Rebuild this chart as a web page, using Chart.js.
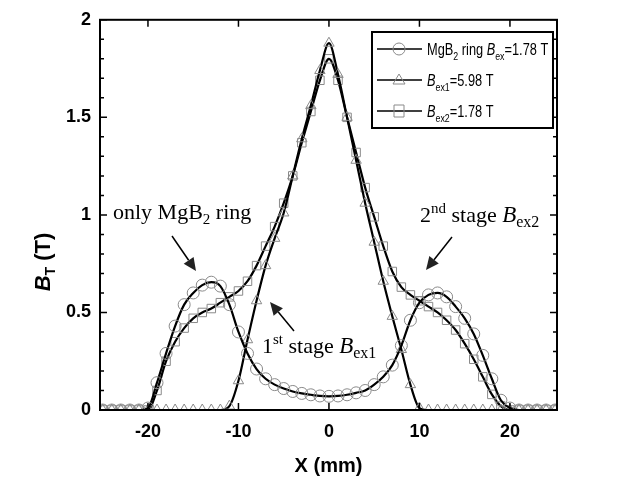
<!DOCTYPE html>
<html>
<head>
<meta charset="utf-8">
<script src="https://cdn.jsdelivr.net/npm/chart.js@4.4.0/dist/chart.umd.min.js"></script>
<style>
  body { margin: 0; background: #fff; }
</style>
</head>
<body>
<canvas id="chart" width="624" height="484"></canvas>
<script>
// positions along X (mm)
const xPositions = [-25, -24, -23, -22, -21, -20, -19, -18, -17, -16, -15, -14, -13, -12, -11, -10, -9, -8, -7, -6, -5, -4, -3, -2, -1,
  0, 1, 2, 3, 4, 5, 6, 7, 8, 9, 10, 11, 12, 13, 14, 15, 16, 17, 18, 19, 20, 21, 22, 23, 24, 25];

// MgB2 ring only, Bex = 1.78 T
const ringValues = [0, 0, 0, 0, 0, 0.01, 0.14, 0.29, 0.43, 0.54, 0.60, 0.64, 0.655, 0.635, 0.54, 0.40, 0.29, 0.21, 0.16, 0.13, 0.11, 0.095, 0.085, 0.078, 0.072,
  0.07, 0.072, 0.078, 0.088, 0.10, 0.13, 0.17, 0.23, 0.33, 0.46, 0.55, 0.59, 0.60, 0.58, 0.53, 0.47, 0.39, 0.28, 0.16, 0.05, 0.01, 0, 0, 0, 0, 0];

// 1st stage, Bex1 = 5.98 T
const stage1Values = [0, 0, 0, 0, 0, 0, 0, 0, 0, 0, 0, 0, 0, 0, 0.02, 0.15, 0.36, 0.56, 0.74, 0.88, 1.01, 1.2, 1.39, 1.56, 1.74,
  1.88, 1.72, 1.50, 1.28, 1.06, 0.86, 0.66, 0.48, 0.31, 0.13, 0.01, 0, 0, 0, 0, 0, 0, 0, 0, 0, 0, 0, 0, 0, 0, 0];

// 2nd stage, Bex2 = 1.78 T
const stage2Values = [0, 0, 0, 0, 0, 0, 0.10, 0.25, 0.35, 0.42, 0.47, 0.50, 0.52, 0.55, 0.58, 0.61, 0.66, 0.74, 0.84, 0.94, 1.06, 1.2, 1.37, 1.53, 1.69,
  1.80, 1.69, 1.50, 1.32, 1.14, 0.99, 0.84, 0.71, 0.63, 0.59, 0.56, 0.53, 0.50, 0.46, 0.41, 0.34, 0.26, 0.17, 0.08, 0.02, 0, 0, 0, 0, 0, 0];

const xTickValues = [-20, -10, 0, 10, 20];
const yTickValues = [0, 0.5, 1, 1.5, 2];
const yTickLabels = ['0', '0.5', '1', '1.5', '2'];

const markerGrey = '#8a8a8a';

function makeSeries(label, values, style) {
  return {
    label: label,
    data: xPositions.map((x, i) => ({ x: x, y: values[i] })),
    borderColor: '#000',
    borderWidth: 2.2,
    cubicInterpolationMode: 'monotone',
    pointStyle: style,
    pointRadius: 6,
    pointBorderWidth: 1,
    pointBorderColor: markerGrey,
    pointBackgroundColor: 'rgba(0,0,0,0)',
    fill: false
  };
}

// draw a run of text pieces: [text, font, dy]
function drawRich(ctx, parts, x, y) {
  ctx.textBaseline = 'alphabetic';
  ctx.textAlign = 'left';
  for (const p of parts) {
    ctx.font = p[1];
    ctx.fillText(p[0], x, y + (p[2] || 0));
    x += ctx.measureText(p[0]).width;
  }
  return x;
}

function drawArrow(ctx, x1, y1, x2, y2) {
  const ang = Math.atan2(y2 - y1, x2 - x1);
  const len = 13, half = 6;
  const bx = x2 - len * Math.cos(ang), by = y2 - len * Math.sin(ang);
  ctx.strokeStyle = '#000';
  ctx.lineWidth = 1.5;
  ctx.beginPath();
  ctx.moveTo(x1, y1);
  ctx.lineTo(bx, by);
  ctx.stroke();
  ctx.fillStyle = '#222';
  ctx.beginPath();
  ctx.moveTo(x2, y2);
  ctx.lineTo(bx - half * Math.sin(ang), by + half * Math.cos(ang));
  ctx.lineTo(bx + half * Math.sin(ang), by - half * Math.cos(ang));
  ctx.closePath();
  ctx.fill();
}

function drawMarker(ctx, style, x, y) {
  ctx.strokeStyle = markerGrey;
  ctx.lineWidth = 1;
  ctx.beginPath();
  if (style === 'circle') {
    ctx.arc(x, y, 6, 0, Math.PI * 2);
  } else if (style === 'triangle') {
    ctx.moveTo(x, y - 6);
    ctx.lineTo(x + 6, y + 4);
    ctx.lineTo(x - 6, y + 4);
    ctx.closePath();
  } else {
    ctx.rect(x - 5, y - 6, 10, 12);
  }
  ctx.stroke();
}

const decorPlugin = {
  id: 'decor',
  afterDatasetsDraw(chart) {
    const ctx = chart.ctx;
    const a = chart.chartArea;
    const xs = chart.scales.x, ys = chart.scales.y;
    ctx.save();

    // frame
    ctx.strokeStyle = '#000';
    ctx.lineWidth = 2;
    ctx.strokeRect(a.left, a.top, a.right - a.left, a.bottom - a.top);

    // inward ticks
    ctx.lineWidth = 1.5;
    ctx.beginPath();
    for (const v of xTickValues) {
      const px = xs.getPixelForValue(v);
      ctx.moveTo(px, a.bottom); ctx.lineTo(px, a.bottom - 7);
      ctx.moveTo(px, a.top); ctx.lineTo(px, a.top + 7);
    }
    for (let k = 0; k <= 20; k++) {
      const py = ys.getPixelForValue(k / 10);
      const len = k % 5 === 0 ? 7 : 4;
      ctx.moveTo(a.left, py); ctx.lineTo(a.left + len, py);
      ctx.moveTo(a.right, py); ctx.lineTo(a.right - len, py);
    }
    ctx.stroke();

    // y axis title
    ctx.fillStyle = '#000';
    ctx.save();
    ctx.translate(42, 262);
    ctx.rotate(-Math.PI / 2);
    ctx.font = 'bold 22px "Liberation Sans"';
    let w = ctx.measureText('B').width;
    ctx.font = 'bold 14px "Liberation Sans"';
    w += ctx.measureText('T').width;
    ctx.font = 'bold 22px "Liberation Sans"';
    w += ctx.measureText(' (T)').width;
    drawRich(ctx, [
      ['B', 'italic bold 22px "Liberation Sans"', 0],
      ['T', 'bold 14px "Liberation Sans"', 5],
      [' (T)', 'bold 22px "Liberation Sans"', 0]
    ], -w / 2, 8);
    ctx.restore();

    // legend box
    const lx = 372, ly = 32, lw = 181, lh = 96;
    ctx.fillStyle = '#fff';
    ctx.fillRect(lx, ly, lw, lh);
    ctx.strokeStyle = '#000';
    ctx.lineWidth = 2;
    ctx.strokeRect(lx, ly, lw, lh);
    const sans = '"Liberation Sans"';
    const rows = [
      ['circle', [['MgB', '16px ' + sans, 0], ['2', '11px ' + sans, 5], [' ring ', '16px ' + sans, 0],
        ['B', 'italic 16px ' + sans, 0], ['ex', '11px ' + sans, 5], ['=1.78 T', '16px ' + sans, 0]]],
      ['triangle', [['B', 'italic 16px ' + sans, 0], ['ex1', '11px ' + sans, 5], ['=5.98 T', '16px ' + sans, 0]]],
      ['rect', [['B', 'italic 16px ' + sans, 0], ['ex2', '11px ' + sans, 5], ['=1.78 T', '16px ' + sans, 0]]]
    ];
    rows.forEach((r, i) => {
      const cy = ly + 17 + i * 31;
      ctx.strokeStyle = '#000';
      ctx.lineWidth = 1.5;
      ctx.beginPath();
      ctx.moveTo(lx + 5, cy); ctx.lineTo(lx + 50, cy);
      ctx.stroke();
      drawMarker(ctx, r[0], lx + 27, cy);
      ctx.fillStyle = '#000';
      ctx.save();
      ctx.translate(lx + 55, cy + 6);
      ctx.scale(0.8, 1);
      drawRich(ctx, r[1], 0, 0);
      ctx.restore();
    });

    // annotations
    ctx.fillStyle = '#000';
    const serif = '"Liberation Serif"';
    drawRich(ctx, [['only MgB', '22px ' + serif, 0], ['2', '15px ' + serif, 5], [' ring', '22px ' + serif, 0]], 113, 219);
    drawRich(ctx, [['1', '22px ' + serif, 0], ['st', '15px ' + serif, -9], [' stage ', '22px ' + serif, 0],
      ['B', 'italic 23px ' + serif, 0], ['ex1', '16px ' + serif, 5]], 262, 353);
    drawRich(ctx, [['2', '22px ' + serif, 0], ['nd', '15px ' + serif, -9], [' stage ', '22px ' + serif, 0],
      ['B', 'italic 23px ' + serif, 0], ['ex2', '16px ' + serif, 5]], 420, 222);

    drawArrow(ctx, 172, 236, 196, 271);
    drawArrow(ctx, 294, 331, 270, 302);
    drawArrow(ctx, 452, 237, 426, 270);

    ctx.restore();
  }
};

new Chart(document.getElementById('chart').getContext('2d'), {
  type: 'line',
  data: {
    datasets: [
      makeSeries('MgB2 ring Bex=1.78 T', ringValues, 'circle'),
      makeSeries('Bex1=5.98 T', stage1Values, 'triangle'),
      makeSeries('Bex2=1.78 T', stage2Values, 'rect')
    ]
  },
  options: {
    responsive: false,
    animation: false,
    layout: { padding: { top: 16, right: 67, left: 0, bottom: 0 } },
    scales: {
      x: {
        type: 'linear',
        min: -25.3,
        max: 25.2,
        afterBuildTicks: s => { s.ticks = xTickValues.map(v => ({ value: v })); },
        afterFit: s => { s.height = 74; },
        grid: { display: false, drawTicks: false },
        border: { display: false },
        ticks: { padding: 11, color: '#000', font: { family: 'Liberation Sans', size: 18, weight: 'bold' } },
        title: { display: true, text: 'X (mm)', color: '#000', font: { family: 'Liberation Sans', size: 20, weight: 'bold' }, padding: { top: 0, bottom: 6 } }
      },
      y: {
        min: 0,
        max: 2,
        afterBuildTicks: s => { s.ticks = yTickValues.map(v => ({ value: v })); },
        afterFit: s => { s.width = 100; },
        grid: { display: false, drawTicks: false },
        border: { display: false },
        ticks: {
          padding: 9, color: '#000', font: { family: 'Liberation Sans', size: 18, weight: 'bold' },
          callback: (v, i) => yTickLabels[i]
        }
      }
    },
    plugins: {
      legend: { display: false },
      tooltip: { enabled: false }
    }
  },
  plugins: [decorPlugin]
});
</script>
</body>
</html>
